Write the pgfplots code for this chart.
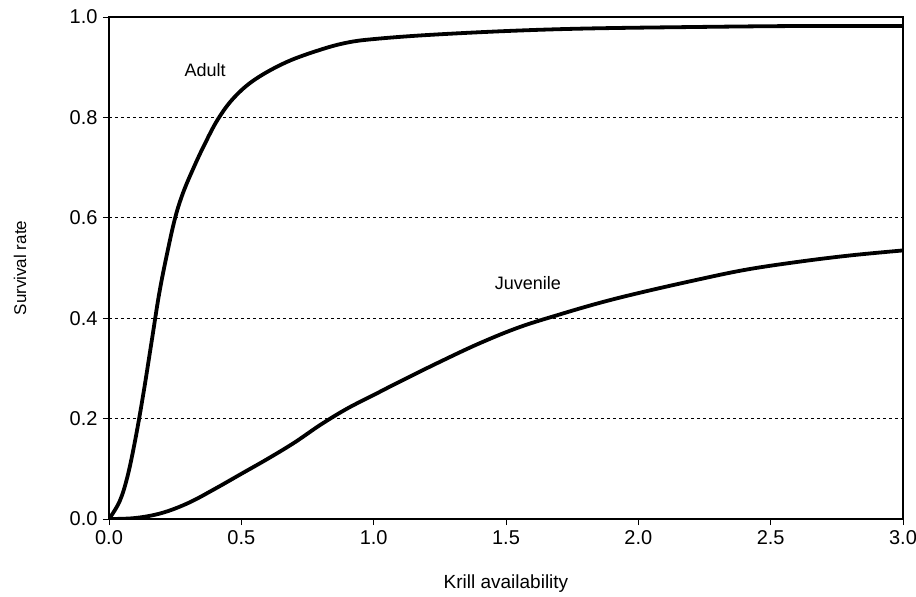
\documentclass[border=0pt]{standalone}
\usepackage{pgfplots}
\pgfplotsset{compat=1.18}
\usepackage{fontspec}
\setmainfont{Liberation Sans}
\begin{document}
\begin{tikzpicture}
\path[use as bounding box] (-109bp,-78bp) rectangle (807bp,519bp);
\begin{axis}[
  at={(0,0)}, anchor=south west,
  scale only axis, clip mode=individual,
  width=794bp, height=502bp,
  xmin=0, xmax=3, ymin=0, ymax=1,
  xtick={0,0.5,...,3}, ytick={0,0.2,...,1},
  xticklabels={0.0,0.5,1.0,1.5,2.0,2.5,3.0},
  yticklabels={0.0,0.2,0.4,0.6,0.8,1.0},
  tick align=outside,
  xtick pos=bottom, ytick pos=left,
  major tick length=6bp,
  tick style={black, line width=0.8bp},
  axis line style={black, line width=1.2bp},
  ymajorgrids,
  grid style={black, line width=0.7bp, dash pattern=on 3bp off 3bp},
  /pgf/number format/assume math mode=true,
  tick label style={font=\fontsize{20bp}{22bp}\selectfont},
  xticklabel style={yshift=-2bp},
  yticklabel style={xshift=-2bp},
]
\addplot[black, line width=3.8bp, smooth, tension=0.6] coordinates {
(0,0) (0.04,0.035) (0.07,0.085) (0.10,0.16) (0.13,0.25) (0.16,0.35)
(0.19,0.45) (0.22,0.53) (0.25,0.60) (0.28,0.65) (0.32,0.70) (0.36,0.745)
(0.41,0.795) (0.47,0.838) (0.55,0.875) (0.67,0.910) (0.80,0.935)
(0.90,0.949) (1.0,0.956) (1.2,0.964) (1.5,0.972) (1.8,0.977)
(2.2,0.980) (2.6,0.982) (3.0,0.982)
};
\addplot[black, line width=3.8bp, smooth, tension=0.6] coordinates {
(0,0) (0.1,0.002) (0.2,0.012) (0.3,0.032) (0.4,0.060) (0.5,0.090)
(0.6,0.120) (0.7,0.152) (0.8,0.188) (0.9,0.220) (1.0,0.247) (1.1,0.274)
(1.25,0.313) (1.4,0.350) (1.55,0.382) (1.7,0.407) (1.85,0.430) (2.0,0.450)
(2.2,0.474) (2.4,0.496) (2.6,0.512) (2.8,0.525) (3.0,0.535)
};
\node[font=\fontsize{18bp}{20bp}\selectfont] at (axis cs:0.363,0.894) {Adult};
\node[font=\fontsize{18bp}{20bp}\selectfont] at (axis cs:1.583,0.470) {Juvenile};
\node[font=\fontsize{19bp}{21bp}\selectfont] at (axis description cs:0.5,-0.128) {Krill availability};
\node[font=\fontsize{17bp}{19bp}\selectfont, rotate=90] at (axis description cs:-0.112,0.5) {Survival rate};
\end{axis}
\end{tikzpicture}
\end{document}
